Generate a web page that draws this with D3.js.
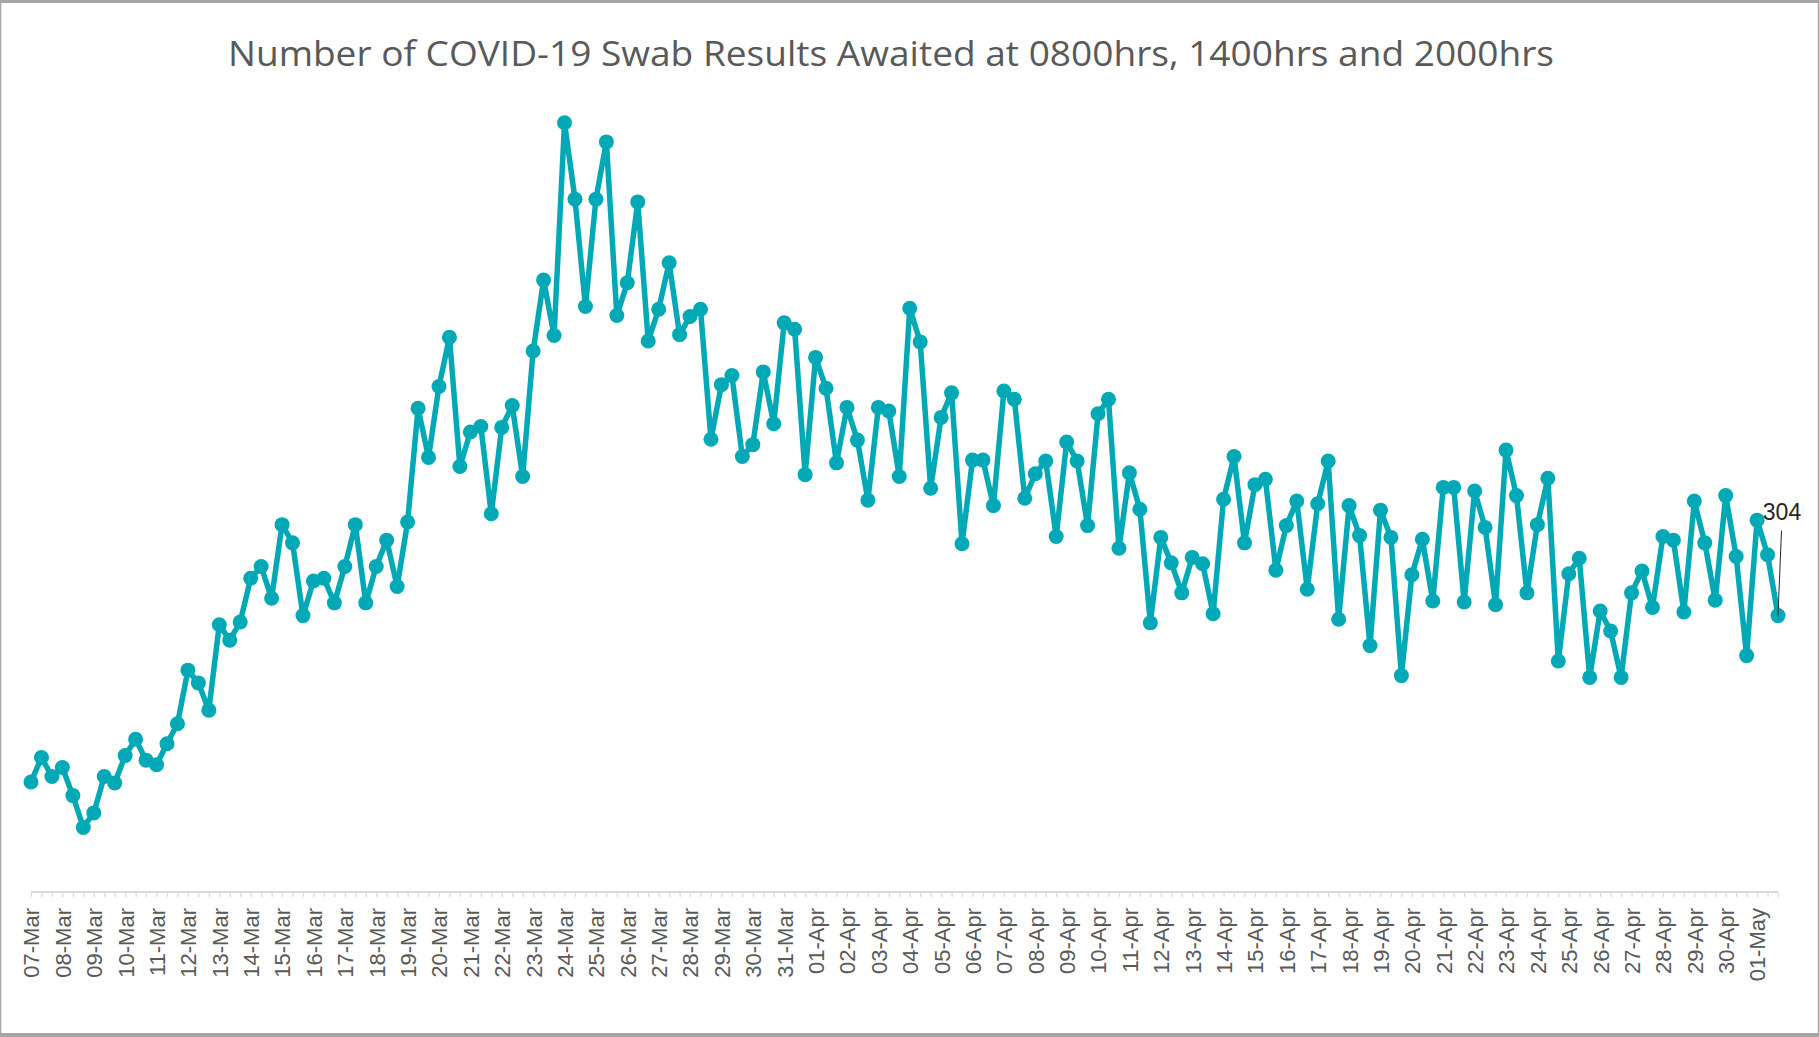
<!DOCTYPE html>
<html>
<head>
<meta charset="utf-8">
<script src="https://cdn.jsdelivr.net/npm/d3@7"></script>
<style>
  html, body { margin: 0; padding: 0; background: #a6a6a6; }
  svg { display: block; }
</style>
</head>
<body>
<svg id="chart" width="1819" height="1037"></svg>
<script>
// ---- Data ----
const title = "Number of COVID-19 Swab Results Awaited at 0800hrs, 1400hrs and 2000hrs";
const dayLabels = [
  "07-Mar","08-Mar","09-Mar","10-Mar","11-Mar","12-Mar","13-Mar","14-Mar","15-Mar","16-Mar",
  "17-Mar","18-Mar","19-Mar","20-Mar","21-Mar","22-Mar","23-Mar","24-Mar","25-Mar","26-Mar",
  "27-Mar","28-Mar","29-Mar","30-Mar","31-Mar","01-Apr","02-Apr","03-Apr","04-Apr","05-Apr",
  "06-Apr","07-Apr","08-Apr","09-Apr","10-Apr","11-Apr","12-Apr","13-Apr","14-Apr","15-Apr",
  "16-Apr","17-Apr","18-Apr","19-Apr","20-Apr","21-Apr","22-Apr","23-Apr","24-Apr","25-Apr",
  "26-Apr","27-Apr","28-Apr","29-Apr","30-Apr","01-May"
];
const timeSlots = ["0800hrs","1400hrs","2000hrs"];
const awaited = [
  121,148,127, 137,106,71, 87,127,120, 150,168,145, 140,163,185, 244,230,200,
  294,277,297, 345,358,323, 404,384,304, 342,345,318, 358,404,318, 358,387,336,
  407,532,478, 556,610,468, 506,512,416, 511,535,457, 595,673,612, 846,762,644,
  762,825,634, 670,759,606, 641,692,613, 633,641,498, 558,568,479, 492,572,515,
  626,619,459, 588,554,472, 533,497,431, 533,529,457, 642,605,444, 522,549,383,
  475,475,425, 551,542,433, 460,474,391, 495,474,403, 526,542,378, 461,421,296,
  390,362,329, 368,361,306, 432,479,384, 448,454,354, 403,430,333, 427,474,300,
  425,392,271, 420,390,238, 349,388,320, 445,445,319, 441,401,316, 486,436,329,
  404,455,254, 350,367,236, 309,287,236, 329,353,313, 391,387,308, 430,384,321,
  436,369,260, 409,371,304
];
const labelledIndex = awaited.length - 1; // last point carries the "304" data label

// ---- Build categories ----
const points = [];
dayLabels.forEach((d, di) => {
  timeSlots.forEach((t, ti) => {
    const i = di * 3 + ti;
    if (i < awaited.length) points.push({ i, day: d, slot: t, value: awaited[i] });
  });
});

// ---- Layout ----
const svg = d3.select("#chart");
svg.append("rect").attr("x", 1.3).attr("y", 3).attr("width", 1816.5).attr("height", 1030)
  .attr("fill", "#ffffff");

const x0 = 31, x1 = 1778, axisY = 892, plotTop = 73.7;
const x = d3.scalePoint().domain(points.map(p => p.i)).range([x0, x1]);
const y = d3.scaleLinear().domain([0, 900]).range([axisY, plotTop]);

// Title
svg.append("text")
  .attr("x", 891).attr("y", 66)
  .attr("text-anchor", "middle")
  .attr("font-family", "'Open Sans', 'Noto Sans', sans-serif")
  .attr("font-size", 35)
  .attr("fill", "#595959")
  .attr("textLength", 1326)
  .attr("lengthAdjust", "spacingAndGlyphs")
  .text(title);

// X axis
const xAxis = d3.axisBottom(x)
  .tickSize(5)
  .tickFormat(i => (i % 3 === 0 ? dayLabels[i / 3] : ""));
const gx = svg.append("g").attr("transform", `translate(0,${axisY})`).call(xAxis);
gx.select(".domain").attr("stroke", "#d9d9d9").attr("stroke-width", 2)
  .attr("d", `M${x0},0H${x1}`);
gx.selectAll(".tick line").attr("stroke", "#d9d9d9").attr("stroke-width", 1.2);
gx.selectAll(".tick text")
  .attr("font-family", "'Liberation Sans', Arial, sans-serif")
  .attr("font-size", 22)
  .attr("fill", "#595959")
  .attr("text-anchor", "end")
  .attr("transform", "rotate(-90)")
  .attr("x", -16)
  .attr("y", 0)
  .attr("dy", "0.36em");

// Line
const line = d3.line().x(p => x(p.i)).y(p => y(p.value));
svg.append("path")
  .datum(points)
  .attr("fill", "none")
  .attr("stroke", "#00a9b5")
  .attr("stroke-width", 5.5)
  .attr("stroke-linejoin", "round")
  .attr("d", line);

// Markers
svg.append("g").selectAll("circle")
  .data(points)
  .join("circle")
  .attr("cx", p => x(p.i))
  .attr("cy", p => y(p.value))
  .attr("r", 7.5)
  .attr("fill", "#00a9b5");

// Data label for last point with leader line
const lp = points[labelledIndex];
const lx = x(lp.i), ly = y(lp.value);
svg.append("line")
  .attr("x1", lx + 3.5).attr("y1", ly - 85)
  .attr("x2", lx).attr("y2", ly)
  .attr("stroke", "#262626").attr("stroke-width", 1);
svg.append("text")
  .attr("x", lx + 4).attr("y", ly - 96)
  .attr("text-anchor", "middle")
  .attr("font-family", "'Liberation Sans', Arial, sans-serif")
  .attr("font-size", 23)
  .attr("fill", "#262626")
  .text(lp.value);
</script>
</body>
</html>
